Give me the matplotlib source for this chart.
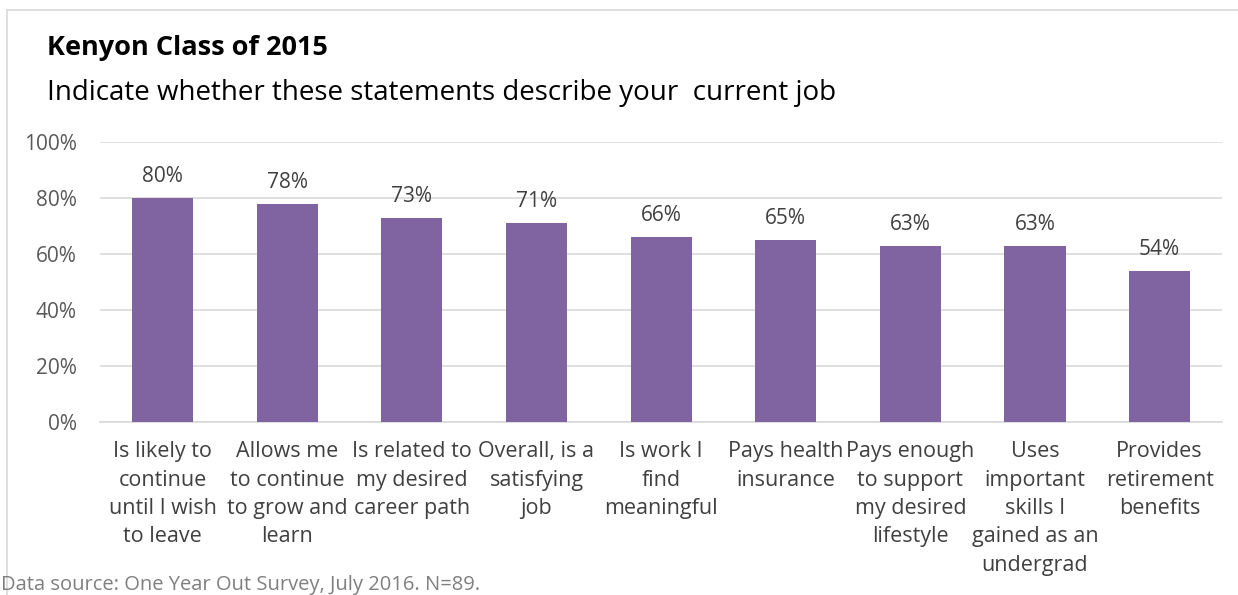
import matplotlib
matplotlib.use('Agg')
from matplotlib import pyplot as plt
from matplotlib.lines import Line2D
from matplotlib.ticker import PercentFormatter

plt.rcParams['font.family'] = ['Open Sans', 'DejaVu Sans']

# Chart data
categories = [
    'Is likely to\ncontinue\nuntil I wish\nto leave',
    'Allows me\nto continue\nto grow and\nlearn',
    'Is related to\nmy desired\ncareer path',
    'Overall, is a\nsatisfying\njob',
    'Is work I\nfind\nmeaningful',
    'Pays health\ninsurance',
    'Pays enough\nto support\nmy desired\nlifestyle',
    'Uses\nimportant\nskills I\ngained as an\nundergrad',
    'Provides\nretirement\nbenefits',
]
values = [80, 78, 73, 71, 66, 65, 63, 63, 54]
y_ticks = [0, 20, 40, 60, 80, 100]

fig = plt.figure(figsize=(12.38, 5.95), dpi=100)
ax = fig.add_axes([0.081, 0.291, 0.906, 0.470])

x = range(len(categories))
bars = ax.bar(x, values, width=0.49, color='#8064A2', zorder=3)

for xi, v in zip(x, values):
    ax.annotate(f'{v}%', (xi, v), xytext=(0, 8), textcoords='offset points',
                ha='center', va='bottom', fontsize=15, color='#404040')

ax.set_xlim(-0.5, len(categories) - 0.5)
ax.set_ylim(0, 100)
ax.set_yticks(y_ticks)
ax.yaxis.set_major_formatter(PercentFormatter(decimals=0))
ax.grid(axis='y', color='#d9d9d9', linewidth=1.2, zorder=0)
for s in ['top', 'right', 'left']:
    ax.spines[s].set_visible(False)
ax.spines['bottom'].set_color('#d9d9d9')
ax.spines['bottom'].set_linewidth(1.2)

ax.set_xticks(list(x))
ax.set_xticklabels(categories, fontsize=15.5, color='#404040', linespacing=1.46, va='top')
ax.tick_params(axis='x', length=0, pad=14)
ax.tick_params(axis='y', length=0, labelsize=15, labelcolor='#595959', pad=17)

fig.text(0.038, 0.92, 'Kenyon Class of 2015', fontsize=19.5, fontweight='bold',
         color='black', va='center')
fig.text(0.038, 0.843, 'Indicate whether these statements describe your  current job',
         fontsize=20, color='black', va='center')
fig.text(0.001, 0.008, 'Data source: One Year Out Survey, July 2016. N=89.',
         fontsize=14.5, color='#7f7f7f')

# chart border (top and left edges)
fig.add_artist(Line2D([0.0057, 1.0], [0.983, 0.983], color='#d9d9d9', linewidth=1.2))
fig.add_artist(Line2D([0.0057, 0.0057], [0.0, 0.983], color='#d9d9d9', linewidth=1.2))

fig.savefig('out.png', dpi=100)
